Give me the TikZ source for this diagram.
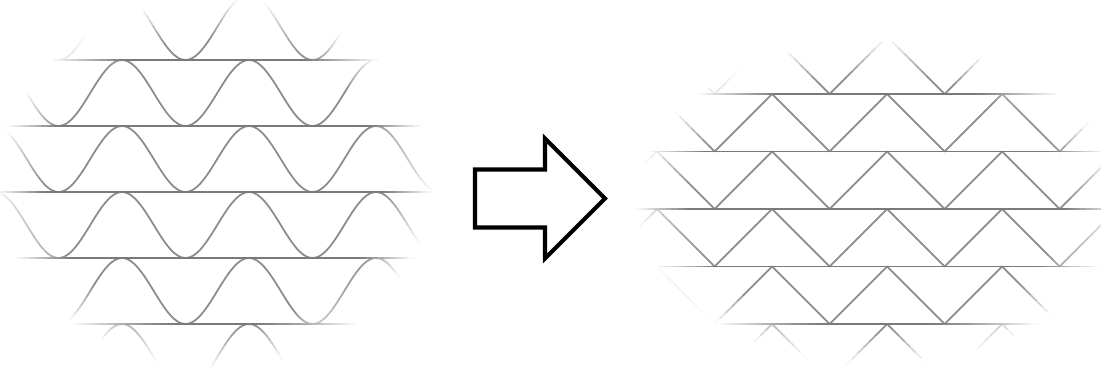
\documentclass[tikz,border=0pt]{standalone}
% segment #3,#4 -- #5,#6 in style #1, grey #2, fading out round (\fcx,\fcy)
\newcommand{\fadeseg}[6]{%
  \pgfmathsetmacro\segr{veclen(((#3+#5)/2-\fcx)/\frx,((#4+#6)/2-\fcy)/\fry)}%
  \pgfmathsetmacro\segk{#2*max(0,min(1,(1-\segr)/0.22))}%
  \ifdim\segk pt>0.5pt\draw[#1, draw=black!\segk] (#3,#4) -- (#5,#6);\fi}

\begin{document}
\begin{tikzpicture}[x=0.02cm, y=-0.02cm,
  wave/.style={line width=1pt, line cap=round},
  rail/.style={line width=1.05pt, line cap=round},
  bigarrow/.style={draw=black, line width=2.3pt, fill=white}]
\useasboundingbox (0,0) rectangle (1101,368);

% sine pattern (period 127, 360/127 = 2.8346)
\begin{scope}
  \def\fcx{215}\def\fcy{183}\def\frx{218}\def\fry{186}
  \foreach \t in {-6,60,126,192,258,324}
    \foreach \k in {0,...,146} {
      \pgfmathsetmacro\xa{-6+3*\k}
      \pgfmathsetmacro\xb{\xa+3}
      \pgfmathsetmacro\ya{\t+33-33*cos(2.8346*(\xa-122))}
      \pgfmathsetmacro\yb{\t+33-33*cos(2.8346*(\xb-122))}
      \fadeseg{wave}{45}{\xa}{\ya}{\xb}{\yb}
    }
  \foreach \t in {60,126,192,258,324}
    \foreach \k in {0,...,73} {
      \pgfmathsetmacro\xa{-6+6*\k}
      \fadeseg{rail}{52}{\xa}{\t}{\xa+6}{\t}
    }
\end{scope}

% block arrow
\draw[bigarrow] (475,169.5) -- (545,169.5) -- (545,138.5) -- (605,198.5) -- (545,258.5) -- (545,227.5) -- (475,227.5) -- cycle;

% zigzag pattern (45 degree teeth)
\begin{scope}
  \def\fcx{878}\def\fcy{202}\def\frx{242}\def\fry{163}
  \foreach \t in {36.5,94,151.5,209,266.5,324}
    \foreach \k in {0,...,95} {
      \pgfmathsetmacro\xa{599.5+5.75*\k}
      \pgfmathsetmacro\xb{\xa+5.75}
      \pgfmathsetmacro\ya{\t+abs(mod(\xa-714.5+1150,115)-57.5)}
      \pgfmathsetmacro\yb{\t+abs(mod(\xb-714.5+1150,115)-57.5)}
      \fadeseg{wave}{45}{\xa}{\ya}{\xb}{\yb}
    }
  \foreach \t in {94,151.5,209,266.5,324}
    \foreach \k in {0,...,82} {
      \pgfmathsetmacro\xa{624+6*\k}
      \fadeseg{rail}{52}{\xa}{\t}{\xa+6}{\t}
    }
\end{scope}
\end{tikzpicture}
\end{document}
